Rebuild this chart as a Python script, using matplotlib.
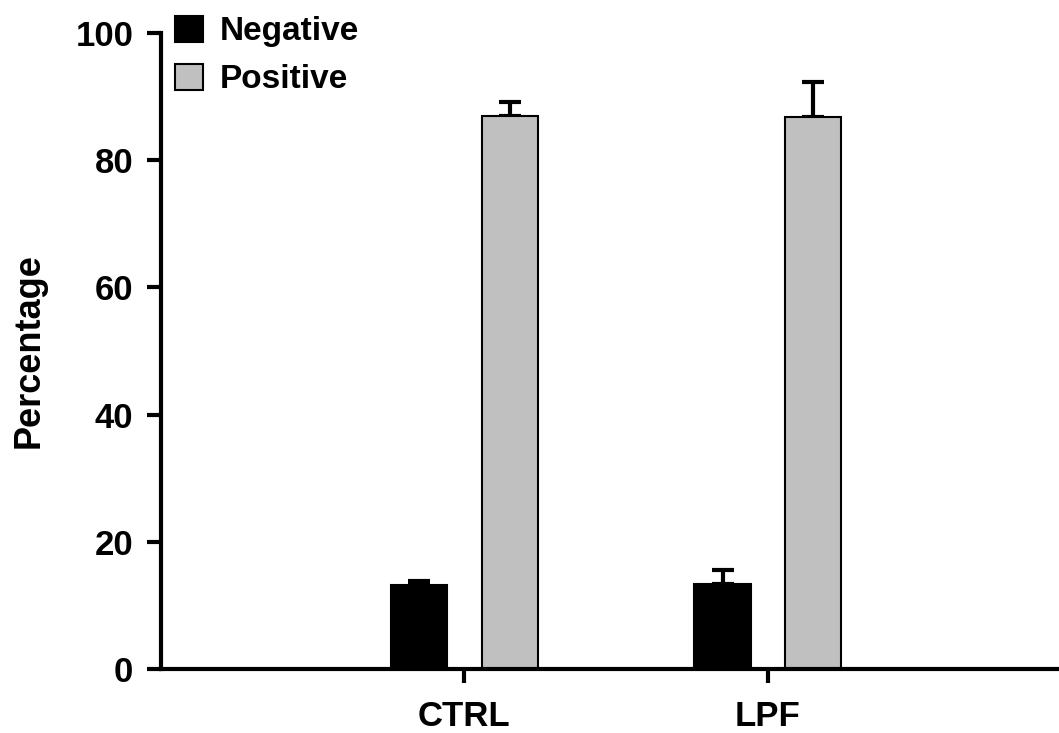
import matplotlib
matplotlib.use("Agg")
import matplotlib.pyplot as plt
import numpy as np

plt.rcParams['font.family'] = ['Liberation Sans', 'DejaVu Sans']
plt.rcParams['font.weight'] = 'bold'

groups = ["CTRL", "LPF"]
series = ["Negative", "Positive"]
means = {"Negative": [13.2, 13.3], "Positive": [86.9, 86.8]}
errors = {"Negative": [0.7, 2.2], "Positive": [2.3, 5.5]}
colors = {"Negative": "#000000", "Positive": "#c0c0c0"}
yticks = [0, 20, 40, 60, 80, 100]

fig = plt.figure(figsize=(10.59, 7.33), dpi=100)
ax = fig.add_axes([161 / 1059, 64 / 733, 1 - 161 / 1059, 636 / 733])

x = np.arange(len(groups))
width = 0.185
offsets = {"Negative": -0.149, "Positive": 0.149}
for s in series:
    ax.bar(x + offsets[s], means[s], width, color=colors[s], edgecolor='black',
           linewidth=1.5, label=s, zorder=2,
           yerr=[np.zeros(len(groups)), errors[s]],
           error_kw=dict(ecolor='black', elinewidth=3, capsize=8, capthick=3, zorder=1))

ax.set_xlim(-1.0, 1.96)
ax.set_ylim(0, 100)
ax.set_yticks(yticks)
ax.set_xticks(x)
ax.set_xticklabels(groups, fontsize=25, fontweight='bold')
ax.tick_params(axis='y', labelsize=25, width=3, length=10, pad=10)
ax.tick_params(axis='x', width=3, length=10, pad=12)
for lab in ax.get_yticklabels():
    lab.set_fontweight('bold')

for sp in ['top', 'right']:
    ax.spines[sp].set_visible(False)
for sp in ['left', 'bottom']:
    ax.spines[sp].set_linewidth(3)
ax.spines['left'].set_bounds(0, 100)

ax.set_ylabel("Percentage", fontsize=26, fontweight='bold')
ax.yaxis.set_label_coords(-0.127, 0.5)

leg = ax.legend(loc='upper left', bbox_to_anchor=(175 / 1059, 1 - 16 / 733),
                bbox_transform=fig.transFigure, frameon=False, fontsize=24,
                handlelength=0.84, handleheight=0.8, handletextpad=0.5,
                labelspacing=0.5, borderpad=0, borderaxespad=0)
for t in leg.get_texts():
    t.set_fontweight('bold')

fig.savefig("out.png", dpi=100)
